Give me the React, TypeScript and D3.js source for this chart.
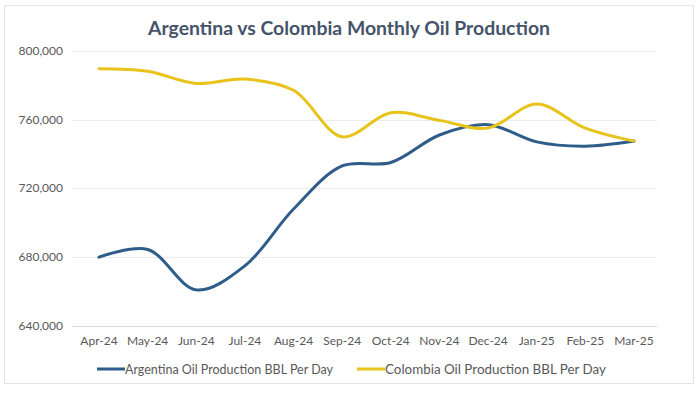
import React, { useEffect, useRef } from "react";
import * as d3 from "d3";

const months = ["Apr-24", "May-24", "Jun-24", "Jul-24", "Aug-24", "Sep-24", "Oct-24", "Nov-24", "Dec-24", "Jan-25", "Feb-25", "Mar-25"];
const argentina = [680000, 684500, 661000, 675000, 708000, 733000, 735000, 751000, 757000, 747000, 744500, 747500];
const colombia = [789500, 788000, 781000, 783500, 777000, 750000, 764000, 759500, 755000, 769000, 755000, 747500];
const yTicks = [640000, 680000, 720000, 760000, 800000];
const seriesNames = ["Argentina Oil Production BBL Per Day", "Colombia Oil Production BBL Per Day"];
const colors = ["#2f5d8a", "#e8c31c"];

const App = () => {
  const ref = useRef<any>(null);
  const width = 700;
  const height = 394;

  useEffect(() => {
    const svg = d3.select(ref.current);
    svg.selectAll("*").remove();
    const font = "Lato, sans-serif";

    // chart frame
    svg
      .append("rect")
      .attr("x", 4.5)
      .attr("y", 5.5)
      .attr("width", 689)
      .attr("height", 378)
      .attr("fill", "#fff")
      .attr("stroke", "#e4e4e4");

    svg
      .append("text")
      .attr("x", 349)
      .attr("y", 35)
      .attr("text-anchor", "middle")
      .attr("font-family", font)
      .attr("font-weight", "bold")
      .attr("font-size", 19)
      .attr("fill", "#44546a")
      .attr("textLength", 402)
      .attr("lengthAdjust", "spacingAndGlyphs")
      .text("Argentina vs Colombia Monthly Oil Production");

    const x = d3.scalePoint().domain(months).range([99, 634]);
    const y = d3.scaleLinear().domain([640000, 800000]).range([326, 50.7]);
    const cx = (m: string) => x(m) as number;

    // grid
    svg
      .selectAll(".grid")
      .data(yTicks)
      .enter()
      .append("line")
      .attr("x1", 72)
      .attr("x2", 657)
      .attr("y1", (d) => Math.round(y(d)) + 0.5)
      .attr("y2", (d) => Math.round(y(d)) + 0.5)
      .attr("stroke", (d) => (d === 640000 ? "#d9d9d9" : "#ececec"))
      .attr("stroke-width", 1);

    const fmt = d3.format(",");
    svg
      .selectAll(".ylab")
      .data(yTicks)
      .enter()
      .append("text")
      .attr("x", 63)
      .attr("y", (d) => y(d) + 4)
      .attr("text-anchor", "end")
      .attr("font-family", font)
      .attr("font-size", 12)
      .attr("fill", "#595959")
      .text((d) => fmt(d));

    svg
      .selectAll(".xlab")
      .data(months)
      .enter()
      .append("text")
      .attr("x", (d) => cx(d))
      .attr("y", 345)
      .attr("text-anchor", "middle")
      .attr("font-family", font)
      .attr("font-size", 12)
      .attr("fill", "#595959")
      .text((d) => d);

    const line = d3
      .line<number>()
      .x((d, i) => cx(months[i]))
      .y((d) => y(d))
      .curve(d3.curveCatmullRom.alpha(0.5));

    [argentina, colombia].forEach((s, i) => {
      svg
        .append("path")
        .attr("d", line(s) as string)
        .attr("fill", "none")
        .attr("stroke", colors[i])
        .attr("stroke-width", 3)
        .attr("stroke-linecap", "round");
    });

    // legend
    const legendX = [97, 357];
    const legendW = [208, 221];
    seriesNames.forEach((name, i) => {
      svg
        .append("line")
        .attr("x1", legendX[i])
        .attr("x2", legendX[i] + 28)
        .attr("y1", 369)
        .attr("y2", 369)
        .attr("stroke", colors[i])
        .attr("stroke-width", 3);
      svg
        .append("text")
        .attr("x", legendX[i] + 28)
        .attr("y", 373.5)
        .attr("font-family", font)
        .attr("font-size", 12.5)
        .attr("fill", "#595959")
        .attr("textLength", legendW[i])
        .attr("lengthAdjust", "spacingAndGlyphs")
        .text(name);
    });
  }, []);

  return (
    <svg
      ref={ref}
      width={width}
      height={height}
      style={{ position: "absolute", left: 0, top: 0, background: "#fff" }}
    ></svg>
  );
};

export default App;
